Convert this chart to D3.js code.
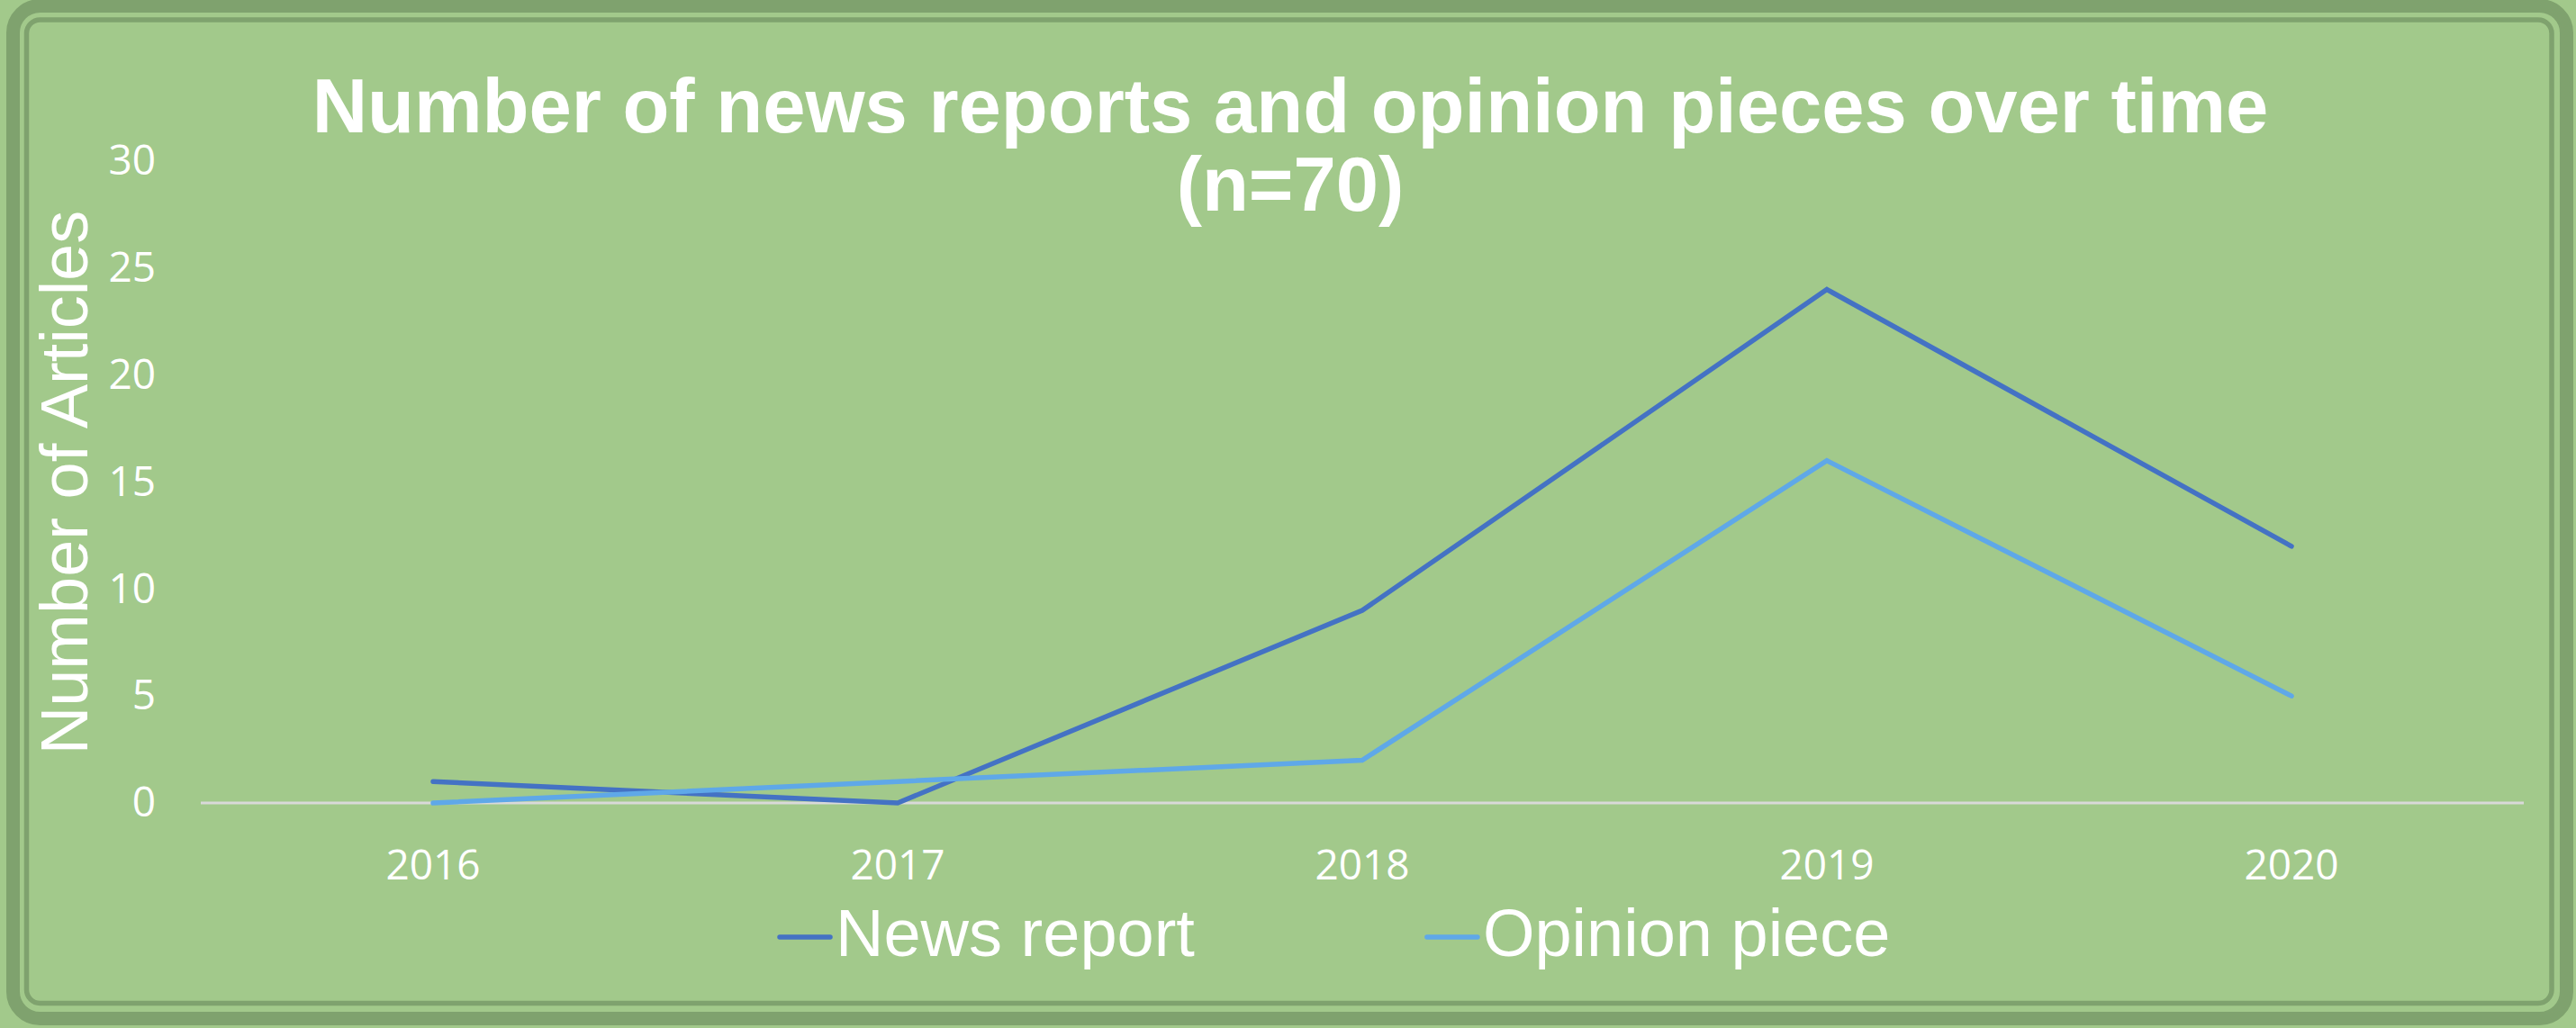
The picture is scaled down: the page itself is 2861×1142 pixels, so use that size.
<!DOCTYPE html>
<html>
<head>
<meta charset="utf-8">
<script src="https://cdn.jsdelivr.net/npm/d3@7"></script>
<style>
  html, body { margin: 0; padding: 0; background: #a2c98b; }
  svg { display: block; }
</style>
</head>
<body>
<svg id="chart" width="2861" height="1142"></svg>
<script>
// data
const years = ["2016", "2017", "2018", "2019", "2020"]
const newsReport = [1, 0, 9, 24, 12]
const opinionPiece = [0, 1, 2, 16, 5]
const yTicks = [0, 5, 10, 15, 20, 25, 30]
const seriesNames = ["News report", "Opinion piece"]
const seriesColors = ["#4472c4", "#5fa8e8"]

const series = [
  { name: seriesNames[0], color: seriesColors[0], values: newsReport },
  { name: seriesNames[1], color: seriesColors[1], values: opinionPiece }
]

const W = 2861, H = 1142
const svg = d3.select("#chart")

svg.append("rect")
  .attr("width", W)
  .attr("height", H)
  .attr("fill", "#a2c98b")

// double frame
svg.append("rect")
  .attr("x", 14.5).attr("y", 6.5)
  .attr("width", 2836).attr("height", 1125)
  .attr("rx", 30)
  .attr("fill", "none")
  .attr("stroke", "#7fa26e")
  .attr("stroke-width", 15)

svg.append("rect")
  .attr("x", 29.5).attr("y", 22)
  .attr("width", 2804.5).attr("height", 1092.5)
  .attr("rx", 15)
  .attr("fill", "none")
  .attr("stroke", "#7fa26e")
  .attr("stroke-width", 5.5)

const plot = { left: 223, right: 2803, top: 179, bottom: 892 }

const x = d3.scaleBand()
  .domain(years)
  .range([plot.left, plot.right])

const y = d3.scaleLinear()
  .domain([0, 30])
  .range([plot.bottom, plot.top])

// y labels
const yAxis = svg.append("g")
  .attr("transform", `translate(${plot.left},0)`)
  .call(d3.axisLeft(y).tickValues(yTicks).tickSize(0).tickPadding(50))
yAxis.select(".domain").remove()
yAxis.selectAll("text")
  .attr("fill", "#ffffff")
  .style("font-family", "'Open Sans', sans-serif")
  .style("font-size", "46px")

// x labels
const xAxis = svg.append("g")
  .attr("transform", `translate(0,${plot.bottom})`)
  .call(d3.axisBottom(x).tickSize(0).tickPadding(52))
xAxis.select(".domain").remove()
xAxis.selectAll("text")
  .attr("fill", "#ffffff")
  .style("font-family", "'Open Sans', sans-serif")
  .style("font-size", "46px")

// zero line
svg.append("line")
  .attr("x1", plot.left).attr("x2", plot.right)
  .attr("y1", y(0)).attr("y2", y(0))
  .attr("stroke", "#d9d9d9")
  .attr("stroke-width", 3)

const line = d3.line()
  .x((d, i) => x(years[i]) + x.bandwidth() / 2)
  .y(d => y(d))

svg.append("g")
  .selectAll("path")
  .data(series)
  .join("path")
  .attr("d", d => line(d.values))
  .attr("fill", "none")
  .attr("stroke", d => d.color)
  .attr("stroke-width", 5.5)
  .attr("stroke-linecap", "round")
  .attr("stroke-linejoin", "miter")

// title
const title = svg.append("text")
  .attr("text-anchor", "middle")
  .attr("fill", "#ffffff")
  .style("font-family", "'Liberation Sans', Arial, sans-serif")
  .style("font-weight", "bold")
  .style("font-size", "85px")
title.append("tspan").attr("x", 1433).attr("y", 147)
  .text("Number of news reports and opinion pieces over time")
title.append("tspan").attr("x", 1433).attr("y", 234)
  .text("(n=70)")

// y title
svg.append("text")
  .attr("transform", "translate(97,536) rotate(-90)")
  .attr("text-anchor", "middle")
  .attr("fill", "#ffffff")
  .style("font-family", "'Liberation Sans', Arial, sans-serif")
  .style("font-size", "74px")
  .text("Number of Articles")

// legend
let lx = 866
series.forEach(s => {
  const g = svg.append("g").attr("transform", `translate(${lx},1041)`)
  g.append("line")
    .attr("x1", 0).attr("x2", 56)
    .attr("stroke", s.color)
    .attr("stroke-width", 5.5)
    .attr("stroke-linecap", "round")
  const t = g.append("text")
    .attr("x", 62).attr("y", 21)
    .attr("fill", "#ffffff")
    .style("font-family", "'Liberation Sans', Arial, sans-serif")
    .style("font-size", "74px")
    .text(s.name)
  lx += 62 + t.node().getComputedTextLength() + 258
})
</script>
</body>
</html>
